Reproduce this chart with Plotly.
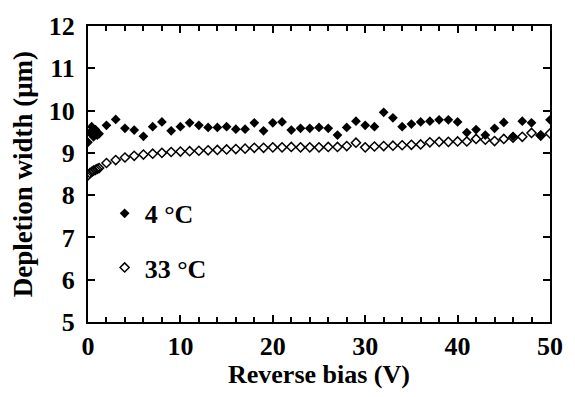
import plotly.graph_objects as go

bias_4C = [0, 0.2, 0.4, 0.6, 0.8, 1.0, 1.2] + list(range(2, 51))
width_4C = [9.25, 9.48, 9.62, 9.38, 9.55, 9.42, 9.45,
            9.65, 9.79, 9.58, 9.54, 9.39, 9.62, 9.73, 9.52, 9.62,
            9.71, 9.65, 9.60, 9.60, 9.62, 9.56, 9.56, 9.71, 9.52, 9.71,
            9.73, 9.54, 9.58, 9.58, 9.60, 9.58, 9.42, 9.60, 9.75, 9.65,
            9.62, 9.96, 9.83, 9.62, 9.68, 9.73, 9.75, 9.78, 9.78, 9.73,
            9.48, 9.55, 9.42, 9.58, 9.72, 9.39, 9.75, 9.71, 9.42, 9.78]

bias_33C = [0, 0.2, 0.4, 0.6, 0.8, 1.0, 1.2] + list(range(2, 51))
width_33C = [8.47, 8.52, 8.55, 8.58, 8.60, 8.62, 8.64,
             8.76, 8.83, 8.89, 8.93, 8.96, 8.98, 9.00, 9.02, 9.03,
             9.04, 9.05, 9.06, 9.07, 9.08, 9.09, 9.10, 9.12, 9.12, 9.13,
             9.13, 9.14, 9.13, 9.13, 9.13, 9.14, 9.14, 9.16, 9.24, 9.13,
             9.15, 9.16, 9.17, 9.18, 9.19, 9.20, 9.25, 9.26, 9.26, 9.27,
             9.27, 9.33, 9.31, 9.28, 9.33, 9.36, 9.38, 9.47, 9.41, 9.46]

labels = ["4 °C", "33 °C"]
x_ticks = [0, 10, 20, 30, 40, 50]
y_ticks = [5, 6, 7, 8, 9, 10, 11, 12]
x_title = "Reverse bias (V)"
y_title = "Depletion width (μm)"
FONT = "Liberation Serif"

fig = go.Figure()
fig.add_trace(go.Scatter(
    x=bias_4C, y=width_4C, mode="markers", name=labels[0],
    marker=dict(symbol="diamond", size=7.5, color="black"),
    showlegend=True, legend="legend"))
fig.add_trace(go.Scatter(
    x=bias_33C, y=width_33C, mode="markers", name=labels[1],
    marker=dict(symbol="diamond-open", size=7, color="black",
                line=dict(width=1.5, color="black")),
    showlegend=True, legend="legend2"))

boldfont = dict(family=FONT, size=26, color="black", weight=700)

axis_common = dict(
    showline=True, linecolor="black", linewidth=2, mirror="allticks",
    ticks="inside", tickcolor="black", tickwidth=1.5,
    showgrid=False, zeroline=False,
    tickfont=boldfont,
)

fig.update_xaxes(
    range=[0, 50], tickvals=x_ticks, ticklen=7,
    minor=dict(dtick=2, ticks="inside", ticklen=5, tickcolor="black", tickwidth=1.5),
    ticklabelstandoff=0,
    **axis_common)
fig.update_yaxes(
    range=[5, 12], tickvals=y_ticks, ticklen=7,
    ticklabelstandoff=6,
    **axis_common)

fig.add_annotation(text=x_title, xref="paper", yref="paper", x=0.5, y=-0.178,
                   xanchor="center", yanchor="middle", showarrow=False,
                   font=dict(family=FONT, size=26, color="black", weight=700))
fig.add_annotation(text=y_title, xref="paper", yref="paper", x=-0.140, y=0.5,
                   xanchor="center", yanchor="middle", showarrow=False, textangle=-90,
                   font=dict(family=FONT, size=27, color="black", weight=700))

legfont = dict(family=FONT, size=26, color="black", weight=700)
fig.update_layout(
    width=575, height=397,
    margin=dict(l=88, r=16, t=17, b=75),
    paper_bgcolor="white", plot_bgcolor="white",
    legend=dict(x=0.036, y=0.367, xanchor="left", yanchor="middle",
                font=legfont, bgcolor="rgba(0,0,0,0)", itemwidth=30),
    legend2=dict(x=0.036, y=0.184, xanchor="left", yanchor="middle",
                 font=legfont, bgcolor="rgba(0,0,0,0)", itemwidth=30),
)

fig.write_html("out.html")
